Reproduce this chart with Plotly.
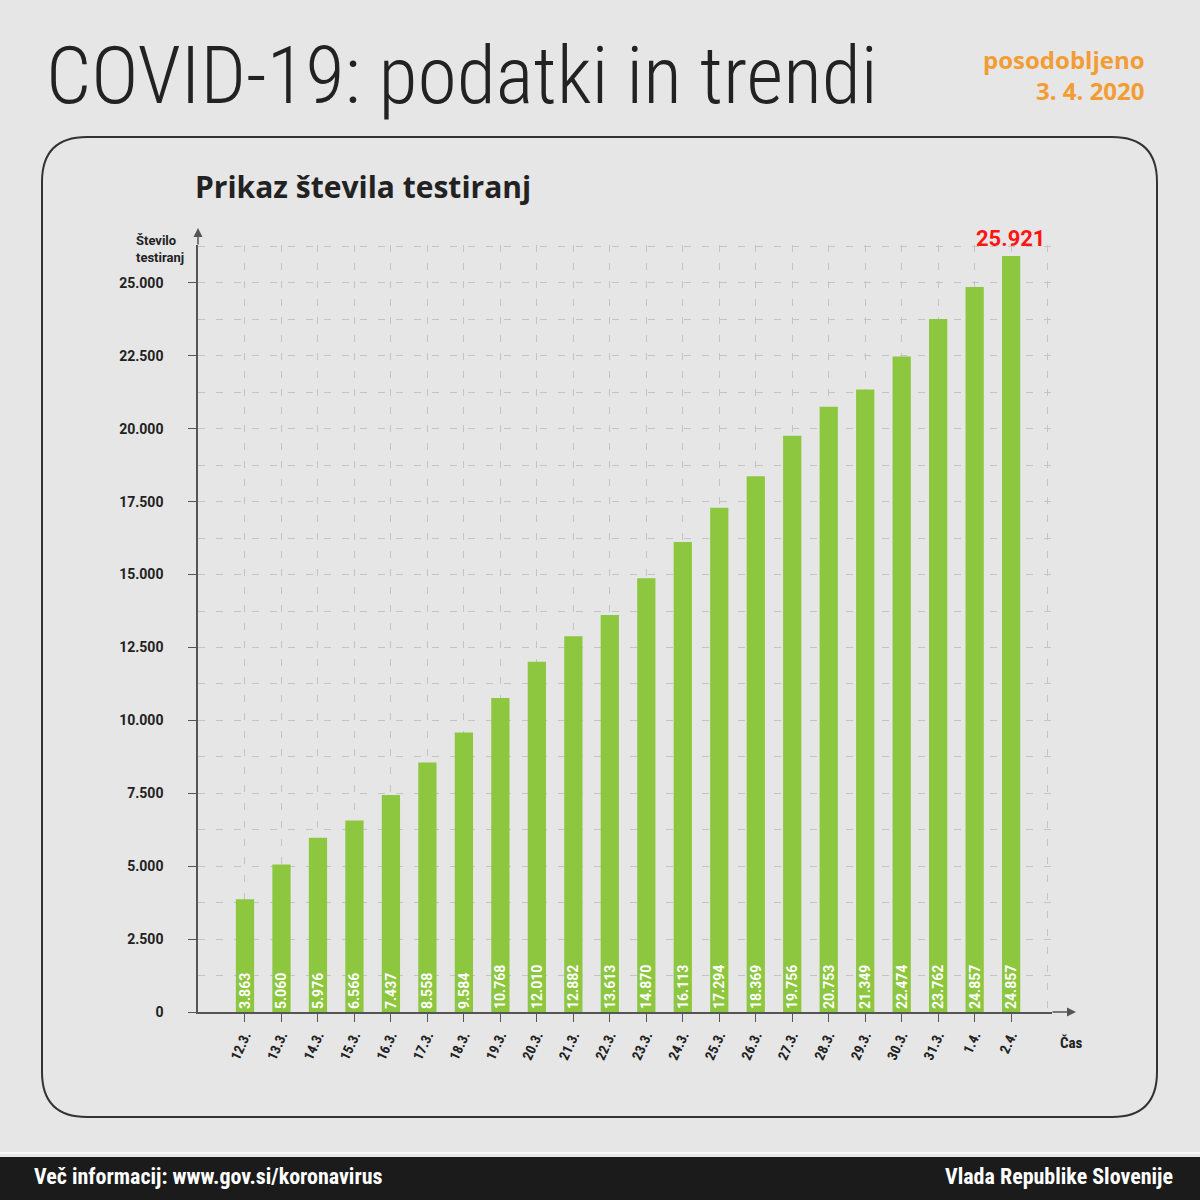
#!/usr/bin/env python3
# -*- coding: utf-8 -*-
import plotly.graph_objects as go

# podatki
datumi = ["12.3.", "13.3.", "14.3.", "15.3.", "16.3.", "17.3.", "18.3.", "19.3.", "20.3.", "21.3.", "22.3.",
          "23.3.", "24.3.", "25.3.", "26.3.", "27.3.", "28.3.", "29.3.", "30.3.", "31.3.", "1.4.", "2.4."]
testiranja = [3863, 5060, 5976, 6566, 7437, 8558, 9584, 10768, 12010, 12882, 13613,
              14870, 16113, 17294, 18369, 19756, 20753, 21349, 22474, 23762, 24857, 25921]
oznake = ["3.863", "5.060", "5.976", "6.566", "7.437", "8.558", "9.584", "10.768", "12.010", "12.882", "13.613",
          "14.870", "16.113", "17.294", "18.369", "19.756", "20.753", "21.349", "22.474", "23.762", "24.857", "24.857"]
y_ticks = [0, 2500, 5000, 7500, 10000, 12500, 15000, 17500, 20000, 22500, 25000]
y_tick_text = ["0", "2.500", "5.000", "7.500", "10.000", "12.500", "15.000", "17.500", "20.000", "22.500", "25.000"]
zadnji = "25.921"

W, H = 1200, 1200
L, R, T, B = 198, 1052, 245, 1012   # plot area in pixels

def px(x):
    return (x - L) / (R - L)

def py(y):
    return (B - y) / (B - T)

BG = "#e6e6e6"
GRID = "#c4c4c4"
AX = "#555555"
COND = "Roboto Condensed, Liberation Sans Narrow, Roboto, sans-serif"
WIDE = "Roboto, Open Sans, sans-serif"
OPEN = "Open Sans, Roboto, sans-serif"

x_idx = list(range(len(datumi)))

fig = go.Figure()
fig.add_trace(go.Bar(
    x=x_idx, y=testiranja, width=0.5,
    marker=dict(color="#8dc63f", line=dict(width=0)),
    text=oznake, textposition="inside", insidetextanchor="start", textangle=-90,
    textfont=dict(color="white", size=14, family=WIDE, weight="bold"),
    constraintext="none", hoverinfo="skip",
))

fig.update_layout(
    width=W, height=H,
    paper_bgcolor=BG, plot_bgcolor=BG,
    margin=dict(l=L, r=W - R, t=T, b=H - B),
    showlegend=False,
    font=dict(family=COND, color="#222222"),
    xaxis=dict(
        range=[-1.288, 22.12], tickmode="array", tickvals=x_idx, ticktext=datumi,
        tickangle=-65, ticks="outside", ticklen=8, tickcolor=AX,
        tickfont=dict(size=14, weight="bold", color="#222222", family=COND),
        showline=True, linecolor=AX, linewidth=1.5,
        showgrid=True, gridcolor=GRID, griddash="7px,11px", gridwidth=1,
        minor=dict(tickmode="array", tickvals=[22], showgrid=True, gridcolor=GRID, griddash="7px,11px", ticks=""),
        zeroline=False, fixedrange=True,
    ),
    yaxis=dict(
        range=[0, 26300], tickmode="array", tickvals=y_ticks, ticktext=y_tick_text,
        ticks="outside", ticklen=8, tickcolor=AX, ticklabelstandoff=22,
        tickfont=dict(size=14, weight="bold", color="#222222", family=WIDE),
        showline=True, linecolor=AX, linewidth=1.5,
        showgrid=True, gridcolor=GRID, griddash="7px,11px", gridwidth=1,
        minor=dict(dtick=1250, showgrid=True, gridcolor=GRID, griddash="7px,11px", ticks=""),
        zeroline=False, fixedrange=True,
    ),
)

# okvir z zaobljenimi robovi
x0, y0, x1, y1, r = px(42), py(137), px(1157), py(1117), 45
rx, ry = r / (R - L), r / (B - T)
okvir = (f"M {x0 + rx},{y0} L {x1 - rx},{y0} Q {x1},{y0} {x1},{y0 - ry} "
         f"L {x1},{y1 + ry} Q {x1},{y1} {x1 - rx},{y1} L {x0 + rx},{y1} "
         f"Q {x0},{y1} {x0},{y1 + ry} L {x0},{y0 - ry} Q {x0},{y0} {x0 + rx},{y0} Z")
fig.add_shape(type="path", path=okvir, xref="paper", yref="paper",
              line=dict(color="#333333", width=2), layer="below")
# noga
fig.add_shape(type="rect", xref="paper", yref="paper", x0=px(0), x1=px(1200), y0=py(1157), y1=py(1200),
              fillcolor="#1b1b1b", line=dict(width=0))
fig.add_shape(type="line", xref="paper", yref="paper", x0=px(0), x1=px(1200), y0=py(1153), y1=py(1153),
              line=dict(color="#f8f8f8", width=2))

def besedilo(x, y, t, size, color="#222222", weight="normal", xanchor="left", yanchor="middle", family=COND):
    fig.add_annotation(x=px(x), y=py(y), xref="paper", yref="paper", text=t, showarrow=False,
                       xanchor=xanchor, yanchor=yanchor, align=xanchor if xanchor != "center" else "center",
                       font=dict(size=size, color=color, family=family, weight=weight))

besedilo(44, 76, "COVID-19: podatki in trendi", 80, color="#222222", weight=300)
besedilo(1147, 75, "posodobljeno<br>3. 4. 2020", 24, color="#f39c33", weight="bold", xanchor="right", family=OPEN)
besedilo(193, 186, "Prikaz števila testiranj", 30, weight="bold", family=OPEN)
besedilo(134, 249, "Število<br>testiranj", 13, weight="bold", family=WIDE)
besedilo(1058, 1043, "Čas", 15, weight="bold")
besedilo(1011, 239, zadnji, 22, color="#ff1414", weight="bold", xanchor="center", family=WIDE)
besedilo(32, 1176, "Več informacij: www.gov.si/koronavirus", 22, color="white", weight="bold")
besedilo(1175, 1176, "Vlada Republike Slovenije", 22, color="white", weight="bold", xanchor="right")

# puscici na oseh
fig.add_annotation(x=0, y=py(228), xref="paper", yref="paper", ax=0, ay=18, text="",
                   showarrow=True, arrowhead=2, arrowsize=1.2, arrowwidth=1.5, arrowcolor=AX)
fig.add_annotation(x=px(1076), y=0, xref="paper", yref="paper", ax=-25, ay=0, text="",
                   showarrow=True, arrowhead=2, arrowsize=1.2, arrowwidth=1.5, arrowcolor=AX)

fig.write_html("out.html", config={"displayModeBar": False},
               post_script="document.body.style.margin='0';document.body.style.background='#e6e6e6';")
